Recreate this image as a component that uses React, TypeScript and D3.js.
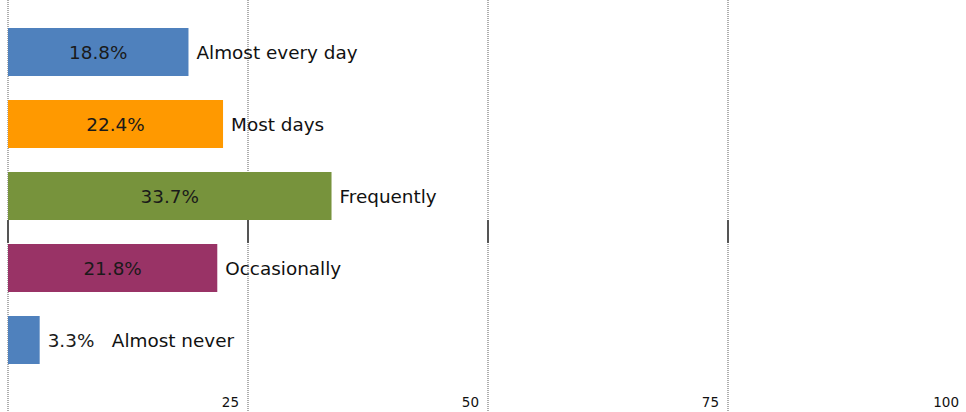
import React from "react";
import * as d3 from "d3";

const categories = ["Almost every day", "Most days", "Frequently", "Occasionally", "Almost never"];
const values = [18.8, 22.4, 33.7, 21.8, 3.3];
const colors = ["#4F81BD", "#FF9900", "#77933C", "#993366", "#4F81BD"];
const ticks = [0, 25, 50, 75, 100];

const W = 966;
const H = 412;
const FONT = "'DejaVu Sans', Verdana, sans-serif";

export default function App() {
  const x = d3.scaleLinear().domain([0, 100]).range([8, 968]);
  const y = d3.scaleBand<string>().domain(categories).range([16, 376]).paddingInner(1 / 3).paddingOuter(1 / 6);
  const bh = y.bandwidth();
  const fs = 18.4;
  const charW = fs * 0.6;
  return (
    <svg width={W} height={H} style={{ position: "absolute", left: 0, top: 0, background: "#fff" }}>
      {ticks.map((t) => (
        <g key={t}>
          <line x1={x(t)} x2={x(t)} y1={0} y2={H} stroke="#9a9a9a" strokeWidth={1.6} strokeDasharray="1,1" />
          <line x1={x(t)} x2={x(t)} y1={220} y2={243} stroke="#555" strokeWidth={2} />
          {t > 0 && (
            <text x={x(t) - 9} y={407} textAnchor="end" fontFamily={FONT} fontSize={13.5} fill="#111">
              {t}
            </text>
          )}
        </g>
      ))}
      {categories.map((c, i) => {
        const v = values[i];
        const y0 = y(c)!;
        const x0 = x(0);
        const x1 = x(v);
        const label = v.toFixed(1) + "%";
        const lw = label.length * charW;
        const inside = x1 - x0 > lw + 10;
        const cy = y0 + bh / 2;
        const valX = inside ? (x0 + x1) / 2 : x1 + 8;
        const catX = inside ? x1 + 8 : x1 + 8 + lw + 20;
        return (
          <g key={c}>
            <rect x={x0} y={y0} width={x1 - x0} height={bh} fill={colors[i]} />
            <text x={valX} y={cy} dy="0.36em" textAnchor={inside ? "middle" : "start"} fontFamily={FONT} fontSize={fs} fill="#1a1a1a">
              {label}
            </text>
            <text x={catX} y={cy} dy="0.36em" fontFamily={FONT} fontSize={fs} fill="#111">
              {c}
            </text>
          </g>
        );
      })}
    </svg>
  );
}
